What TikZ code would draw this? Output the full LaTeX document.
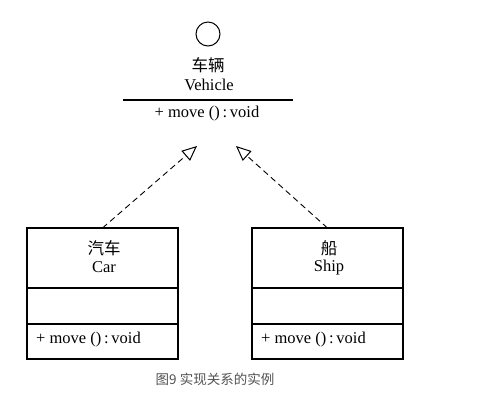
\documentclass[tikz,border=0pt]{standalone}
\usepackage{fontspec}
\setmainfont{Liberation Serif}
\newfontfamily\cjk{Noto Sans CJK SC}
\usetikzlibrary{arrows.meta}
\begin{document}
\begin{tikzpicture}[x=1pt,y=-1pt,
  lbl/.style={inner sep=0pt,font=\fontsize{16.5}{16.5}\selectfont},
  cjklbl/.style={inner sep=0pt,font=\fontsize{16.5}{16.5}\selectfont\cjk},
  part/.style={draw,line width=1.1pt,minimum width=151pt,inner sep=0pt,outer sep=0pt},
  realize/.style={dashed,dash pattern=on 6pt off 4pt,line width=0.9pt,-{Triangle[open,length=15pt,width=13pt,line width=1pt]}}]
\useasboundingbox (0,0) rectangle (485,400);
% Vehicle interface
\node[draw,circle,minimum size=24pt,inner sep=0pt,line width=1pt] (iface) at (208,34) {};
\node[cjklbl] (vcn) at (208,65) {车辆};
\node[lbl] (ven) at (209,85) {Vehicle};
\coordinate (vl) at (123,100);
\coordinate (vr) at (293,100);
\draw[line width=1.1pt] (vl) -- (vr);
\node[lbl] (vmeth) at (207,114) {+ move ()\,:\,void};
\coordinate (tipL) at (197,146);
\coordinate (tipR) at (236,146);
% Car
\node[part,minimum height=60pt] (cartitle) at (102.5,258) {};
\node[part,minimum height=36pt] (carattr) at (102.5,306) {};
\node[part,minimum height=35pt] (carmeth) at (102.5,341.5) {};
\node[cjklbl] (carcn) at (104,248) {汽车};
\node[lbl] (caren) at (104,267) {Car};
\node[lbl,anchor=west] (carm) at (36,340) {+ move ()\,:\,void};
% Ship
\node[part,minimum height=60pt] (shiptitle) at (327.5,258) {};
\node[part,minimum height=36pt] (shipattr) at (327.5,306) {};
\node[part,minimum height=35pt] (shipmeth) at (327.5,341.5) {};
\node[cjklbl] (shipcn) at (329,248) {船};
\node[lbl] (shipen) at (329,268) {Ship};
\node[lbl,anchor=west] (shipm) at (261,340) {+ move ()\,:\,void};
% realizations
\draw[realize] (cartitle.north) -- (tipL);
\draw[realize] (shiptitle.north) -- (tipR);
% caption
\node[inner sep=0pt,font=\fontsize{13.5}{13.5}\selectfont\cjk,text=black!68] (cap) at (215,379) {图9 实现关系的实例};
\end{tikzpicture}
\end{document}
